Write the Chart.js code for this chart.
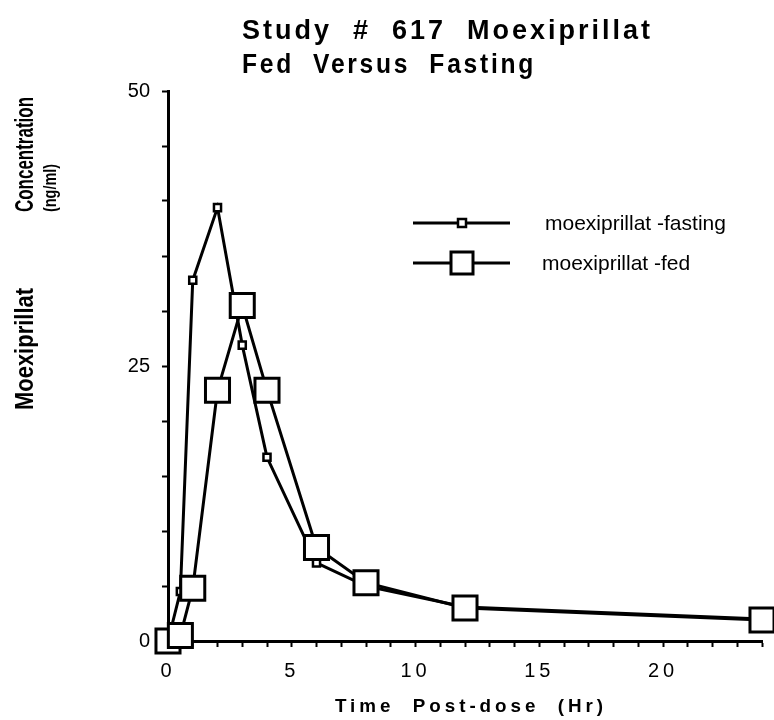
<!DOCTYPE html>
<html>
<head>
<meta charset="utf-8">
<script src="https://cdn.jsdelivr.net/npm/chart.js@4.4.1/dist/chart.umd.min.js"></script>
<style>
  body { margin: 0; background: #fff; }
  canvas { display: block; }
</style>
</head>
<body>
<canvas id="myChart" width="774" height="720"></canvas>
<script>
// time after dose, hours
var timeHr = [0, 0.5, 1, 2, 3, 4, 6, 8, 12, 24];
// moexiprillat concentration (ng/ml)
var fastingConc = [0, 4.5, 32.8, 39.4, 26.9, 16.7, 7.1, 5.0, 3.1, 2.0];
var fedConc = [0, 0.5, 4.8, 22.8, 30.5, 22.8, 8.5, 5.3, 3.0, 1.9];

var seriesNames = ['moexiprillat -fasting', 'moexiprillat -fed'];
var titleLines = ['Study  #  617  Moexiprillat', 'Fed  Versus  Fasting'];
var xTitle = 'Time  Post-dose  (Hr)';
var yTitleWords = ['Moexiprillat', 'Concentration', '(ng/ml)'];

var FONT = '"Liberation Sans", Arial, Helvetica, sans-serif';

var toPoints = function (xs, ys) {
    var pts = [];
    for (var i = 0; i < xs.length; i++) {
        pts.push({ x: xs[i], y: ys[i] });
    }
    return pts;
};

// titles, y title and the legend box are drawn by hand
var decorations = {
    id: 'decorations',
    beforeDraw: function (chart) {
        // spaced digits on the time axis
        var sx = chart.scales.x;
        if (!sx._spaced) {
            var orig = sx.drawLabels.bind(sx);
            sx.drawLabels = function (area) {
                chart.ctx.save();
                chart.ctx.letterSpacing = '4px';
                orig(area);
                chart.ctx.restore();
            };
            sx._spaced = true;
        }
    },
    afterDraw: function (chart) {
        var ctx = chart.ctx;
        ctx.save();
        ctx.fillStyle = '#000';
        ctx.textBaseline = 'alphabetic';
        ctx.textAlign = 'left';

        // main title
        ctx.font = 'bold 27px ' + FONT;
        ctx.letterSpacing = '3px';
        ctx.fillText(titleLines[0], 242, 39, 420);
        ctx.fillText(titleLines[1], 242, 73, 294);

        // x axis title
        ctx.font = 'bold 19px ' + FONT;
        ctx.letterSpacing = '4px';
        ctx.fillText(xTitle, 335, 712, 272);

        // y axis title, rotated
        ctx.letterSpacing = '0px';
        ctx.save();
        ctx.translate(33, 0);
        ctx.rotate(-Math.PI / 2);
        ctx.font = 'bold 25px ' + FONT;
        ctx.fillText(yTitleWords[0], -410, 0, 122);
        ctx.fillText(yTitleWords[1], -212, 0, 115);
        ctx.restore();
        ctx.save();
        ctx.translate(56, 0);
        ctx.rotate(-Math.PI / 2);
        ctx.font = 'bold 19px ' + FONT;
        ctx.fillText(yTitleWords[2], -212, 0, 48);
        ctx.restore();

        // legend
        var rows = [
            { y: 223, half: 4, bw: 2.5 },
            { y: 263, half: 11, bw: 3 }
        ];
        ctx.font = '21px ' + FONT;
        ctx.textBaseline = 'middle';
        for (var i = 0; i < rows.length; i++) {
            var r = rows[i];
            ctx.strokeStyle = '#000';
            ctx.lineWidth = 3;
            ctx.beginPath();
            ctx.moveTo(413, r.y);
            ctx.lineTo(510, r.y);
            ctx.stroke();
            ctx.fillStyle = '#fff';
            ctx.fillRect(462 - r.half, r.y - r.half, r.half * 2, r.half * 2);
            ctx.lineWidth = r.bw;
            ctx.strokeRect(462 - r.half, r.y - r.half, r.half * 2, r.half * 2);
            ctx.fillStyle = '#000';
            ctx.fillText(seriesNames[i], i === 0 ? 545 : 542, r.y + 1);
        }
        ctx.restore();
    }
};

var ctx = document.getElementById('myChart').getContext('2d');

var myChart = new Chart(ctx, {
    type: 'line',
    data: {
        datasets: [{
            label: seriesNames[0],
            data: toPoints(timeHr, fastingConc),
            borderColor: '#000',
            borderWidth: 3,
            pointStyle: 'rect',
            pointRadius: 5,
            pointBorderWidth: 2.5,
            pointBackgroundColor: '#fff',
            pointBorderColor: '#000',
            tension: 0,
            clip: false,
            order: 1
        }, {
            label: seriesNames[1],
            data: toPoints(timeHr, fedConc),
            borderColor: '#000',
            borderWidth: 3,
            pointStyle: 'rect',
            pointRadius: 17,
            pointBorderWidth: 3,
            pointBackgroundColor: '#fff',
            pointBorderColor: '#000',
            tension: 0,
            clip: false,
            order: 0
        }]
    },
    options: {
        responsive: false,
        animation: false,
        layout: { autoPadding: false, padding: { left: 0, top: 91, right: 12, bottom: 0 } },
        plugins: {
            legend: { display: false },
            title: { display: false },
            tooltip: { enabled: false }
        },
        scales: {
            x: {
                type: 'linear',
                min: 0,
                max: 24,
                afterFit: function (scale) {
                    scale.height = 79;
                    scale.paddingRight = 0;
                },
                border: { display: true, color: '#000', width: 3 },
                grid: { drawOnChartArea: false, color: '#000', tickLength: 6, tickWidth: 2 },
                ticks: {
                    stepSize: 1,
                    autoSkip: false,
                    maxRotation: 0,
                    padding: 12,
                    color: '#000',
                    font: { family: FONT, size: 20 },
                    callback: function (v) { return v % 5 === 0 ? v : ''; }
                }
            },
            y: {
                min: 0,
                max: 50,
                afterFit: function (scale) { scale.width = 168; },
                border: { display: true, color: '#000', width: 3 },
                grid: { drawOnChartArea: false, color: '#000', tickLength: 6, tickWidth: 2 },
                ticks: {
                    stepSize: 5,
                    autoSkip: false,
                    padding: 12,
                    color: '#000',
                    font: { family: FONT, size: 20 },
                    callback: function (v) { return v % 25 === 0 ? v : ''; }
                }
            }
        }
    },
    plugins: [decorations]
});
</script>
</body>
</html>
